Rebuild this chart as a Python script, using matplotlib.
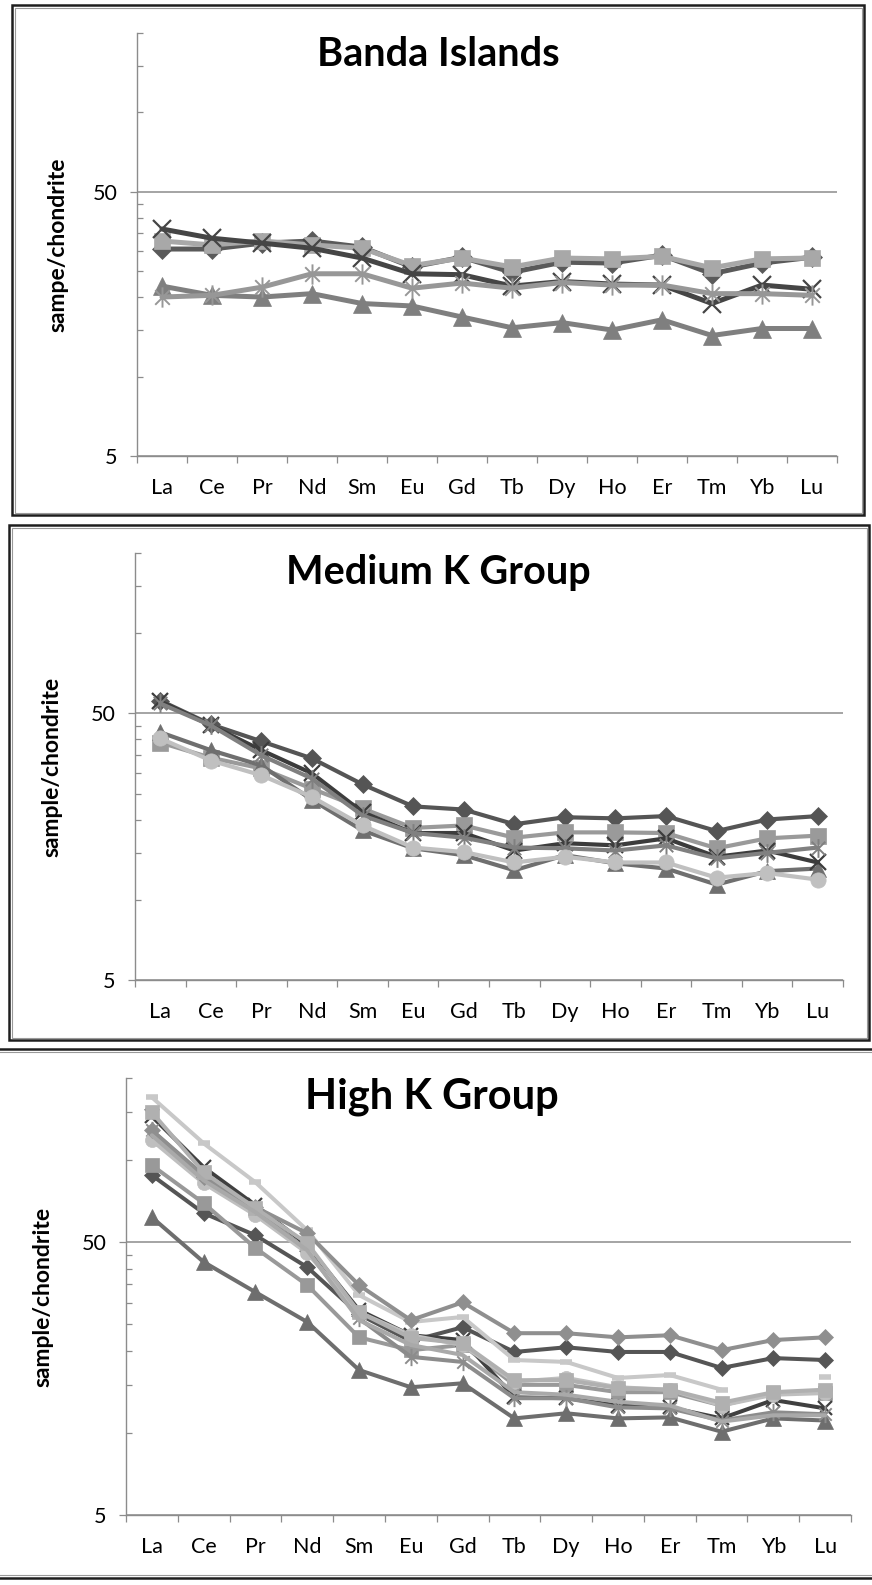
import numpy as np
import matplotlib.pyplot as plt
from matplotlib.path import Path
from matplotlib.patches import Rectangle
from matplotlib.lines import Line2D
from matplotlib.ticker import NullFormatter

plt.rcParams['font.family'] = ['Lato', 'DejaVu Sans']

ree = ['La', 'Ce', 'Pr', 'Nd', 'Sm', 'Eu', 'Gd', 'Tb', 'Dy', 'Ho', 'Er', 'Tm', 'Yb', 'Lu']
nan = np.nan

# Banda Islands
banda_diamond = [30.4, 30.4, 32.0, 32.6, 30.9, 26.0, 28.3, 24.8, 27.1, 26.9, 28.8, 24.5, 26.9, 28.3]
banda_square = [32.6, 31.5, 32.6, 31.5, 30.6, 26.3, 28.1, 26.0, 28.1, 27.9, 28.5, 25.8, 27.9, 28.1]
banda_triangle = [22.0, 20.3, 20.0, 20.6, 18.9, 18.5, 16.8, 15.3, 16.0, 15.0, 16.4, 14.3, 15.2, 15.2]
banda_x = [36.2, 33.4, 32.0, 30.6, 28.1, 24.5, 24.3, 22.0, 22.9, 22.4, 22.2, 18.9, 22.2, 21.4]
banda_asterisk = [20.0, 20.3, 21.8, 24.5, 24.5, 21.6, 22.6, 21.6, 22.7, 22.2, 22.2, 20.6, 20.6, 20.3]

# Medium K group
med_diamond = [55.9, 45.5, 39.3, 33.9, 27.1, 22.4, 21.8, 19.2, 20.4, 20.2, 20.6, 18.1, 20.0, 20.6]
med_square = [38.9, 34.1, 31.1, 26.1, 22.0, 18.6, 19.0, 17.1, 17.9, 17.9, 17.8, 15.6, 17.0, 17.4]
med_triangle = [42.5, 36.4, 31.9, 23.7, 18.2, 15.6, 14.7, 12.9, 14.7, 13.7, 13.1, 11.4, 12.8, 13.1]
med_x = [55.5, 45.1, 36.4, 29.8, 21.3, 17.8, 17.8, 15.3, 16.3, 16.0, 17.0, 14.5, 15.3, 13.8]
med_asterisk = [54.5, 45.1, 34.8, 28.5, 20.7, 17.8, 17.1, 15.7, 15.6, 15.3, 16.0, 14.3, 15.0, 15.7]
med_circle = [40.3, 33.3, 29.3, 24.3, 19.0, 15.7, 15.1, 13.8, 14.5, 13.8, 13.8, 12.1, 12.6, 11.9]

# High K group
high_diamond_dark = [88.0, 63.9, 53.0, 40.5, 27.2, 21.7, 24.4, 19.8, 20.6, 19.8, 19.8, 17.3, 18.8, 18.5]
high_square = [95.7, 69.5, 47.6, 34.8, 22.4, 20.1, 21.0, 15.0, 15.0, 14.1, 14.1, 12.6, 14.0, 14.0]
high_triangle = [61.7, 42.3, 32.8, 25.5, 17.0, 14.7, 15.2, 11.3, 11.8, 11.3, 11.4, 10.1, 11.3, 11.1]
high_x = [144.7, 94.1, 68.3, 48.7, 28.2, 22.8, 21.9, 13.5, 13.4, 12.6, 12.4, 11.3, 13.2, 12.3]
high_asterisk = [128.6, 88.0, 65.5, 46.7, 26.3, 19.0, 18.2, 13.4, 13.4, 12.4, 12.3, 11.1, 11.9, 11.7]
high_circle = [118.2, 82.2, 62.8, 45.6, 27.7, 22.8, 21.0, 15.4, 15.9, 14.7, 14.4, 12.6, 13.8, 14.0]
high_dash = [169.9, 115.2, 82.9, 55.3, 32.0, 25.5, 26.6, 18.5, 18.2, 15.9, 16.3, 14.4, nan, 16.0]
high_diamond_mid = [128.6, 86.5, 67.2, 53.9, 34.8, 25.9, 30.1, 23.2, 23.2, 22.4, 22.8, 20.1, 21.9, 22.4]
high_square_light = [149.7, 90.3, 66.6, 49.6, 27.7, 22.3, 21.3, 15.6, 15.6, 14.6, 14.4, 12.9, 14.1, 14.4]
high_plain = [123.3, 84.3, 64.4, 46.7, 25.9, 21.0, 19.3, 14.1, 13.8, 13.0, 12.6, 11.0, 11.6, 11.6]

W, H = 872, 1585
AXIS_GREY = '#8c8c8c'

# excel style asterisk: a cross plus a vertical stroke
ASTERISK = Path([(0, -1), (0, 1), (-0.72, -0.72), (0.72, 0.72), (-0.72, 0.72), (0.72, -0.72)],
                [Path.MOVETO, Path.LINETO, Path.MOVETO, Path.LINETO, Path.MOVETO, Path.LINETO])

# marker kind -> (marker, size, filled, edge width)
MARKERS = {
    'diamond': ('D', 9.0, True, 0.5),
    'square': ('s', 11.0, True, 0.5),
    'triangle': ('^', 12.0, True, 0.5),
    'x': ('x', 11.5, False, 1.6),
    'asterisk': (ASTERISK, 13.5, False, 1.4),
    'circle': ('o', 11.0, True, 0.5),
    'dash': ('_', 10.0, False, 4.0),
    'none': ('None', 0, True, 0),
}


def frac_rect(left, top, right, bottom):
    return [left / W, 1 - bottom / H, (right - left) / W, (bottom - top) / H]


fig = plt.figure(figsize=(W / 100, H / 100), dpi=100)

panels = [
    dict(title='Banda Islands', ylabel='sampe/chondrite', box=(137, 33, 837, 456),
         title_xy=(438, 55), title_size=28.5, ylabel_x=58, lw=3.6, scale=1.08,
         series=[(banda_diamond, 'diamond', '#5a5a5a'),
                 (banda_square, 'square', '#a8a8a8'),
                 (banda_triangle, 'triangle', '#7f7f7f'),
                 (banda_x, 'x', '#454545'),
                 (banda_asterisk, 'asterisk', '#979797')]),
    dict(title='Medium K Group', ylabel='sample/chondrite', box=(135, 553, 843, 980),
         title_xy=(438, 572), title_size=28.5, ylabel_x=52, lw=3.0, scale=1.0,
         series=[(med_diamond, 'diamond', '#555555'),
                 (med_square, 'square', '#9a9a9a'),
                 (med_triangle, 'triangle', '#6f6f6f'),
                 (med_x, 'x', '#3c3c3c'),
                 (med_asterisk, 'asterisk', '#808080'),
                 (med_circle, 'circle', '#c0c0c0')]),
    dict(title='High K Group', ylabel='sample/chondrite', box=(126, 1078, 851, 1515),
         title_xy=(432, 1097), title_size=30, ylabel_x=43, lw=2.9, scale=0.92,
         series=[(high_diamond_dark, 'diamond', '#555555'),
                 (high_square, 'square', '#999999'),
                 (high_triangle, 'triangle', '#6e6e6e'),
                 (high_x, 'x', '#404040'),
                 (high_asterisk, 'asterisk', '#8c8c8c'),
                 (high_circle, 'circle', '#bfbfbf'),
                 (high_dash, 'dash', '#c8c8c8'),
                 (high_diamond_mid, 'diamond', '#8f8f8f'),
                 (high_square_light, 'square', '#b0b0b0'),
                 (high_plain, 'none', '#a9a9a9')]),
]

x = np.arange(len(ree))
for p in panels:
    left, top, right, bottom = p['box']
    ax = fig.add_axes(frac_rect(left, top, right, bottom))
    ax.set_yscale('log')
    ax.set_ylim(5, 200)
    ax.set_xlim(-0.5, len(ree) - 0.5)

    for vals, kind, color in p['series']:
        marker, ms, filled, mew = MARKERS[kind]
        ax.plot(x, vals, color=color, lw=p['lw'], marker=marker, ms=ms * p['scale'],
                mfc=color if filled else 'none', mec=color, mew=mew,
                solid_joinstyle='round', solid_capstyle='round', zorder=3)

    ax.set_yticks([5, 50])
    ax.set_yticklabels(['5', '50'])
    ax.set_yticks([10, 15, 20, 25, 30, 35, 40, 45, 100, 150, 200], minor=True)
    ax.yaxis.set_minor_formatter(NullFormatter())
    ax.tick_params(axis='y', which='major', direction='out', length=5, width=0.9,
                   color=AXIS_GREY, labelsize=15.5, pad=9)
    ax.tick_params(axis='y', which='minor', direction='in', length=4.5, width=0.9,
                   color=AXIS_GREY)

    ax.set_xticks(np.arange(-0.5, len(ree), 1.0))
    ax.set_xticklabels([])
    ax.set_xticks(x, minor=True)
    ax.set_xticklabels(ree, minor=True)
    ax.tick_params(axis='x', which='major', direction='out', length=5, width=0.9,
                   color=AXIS_GREY)
    ax.tick_params(axis='x', which='minor', length=0, labelsize=15.5, pad=16)

    ax.yaxis.grid(True, which='major', color=AXIS_GREY, lw=1.1)
    ax.set_axisbelow(True)
    for side in ('top', 'right'):
        ax.spines[side].set_visible(False)
    for side in ('left', 'bottom'):
        ax.spines[side].set_color(AXIS_GREY)
        ax.spines[side].set_linewidth(1.0)
    ax.patch.set_alpha(0)

    tx, ty = p['title_xy']
    fig.text(tx / W, 1 - ty / H, p['title'], ha='center', va='center',
             fontsize=p['title_size'], fontweight='bold')
    fig.text(p['ylabel_x'] / W, 1 - (top + bottom) / 2 / H, p['ylabel'],
             ha='center', va='center', rotation=90, fontsize=16.5, fontweight='bold')


def frame(left, top, right, bottom):
    fig.add_artist(Rectangle((left / W, 1 - bottom / H), (right - left) / W, (bottom - top) / H,
                             transform=fig.transFigure, fill=False, ec='#1e1e1e', lw=1.8))
    fig.add_artist(Rectangle(((left + 2.5) / W, 1 - (bottom - 2.5) / H), (right - left - 5) / W,
                             (bottom - top - 5) / H, transform=fig.transFigure, fill=False,
                             ec='#9a9a9a', lw=0.8))


frame(12, 5, 864, 515)
frame(9, 525, 869, 1040)
for yy, c in ((1049, '#1e1e1e'), (1052, '#9a9a9a'), (1578, '#1e1e1e'), (1575, '#9a9a9a')):
    fig.add_artist(Line2D([0, 1], [1 - yy / H] * 2, transform=fig.transFigure, color=c,
                          lw=1.8 if c == '#1e1e1e' else 0.8))

fig.savefig('out.png', dpi=100)
